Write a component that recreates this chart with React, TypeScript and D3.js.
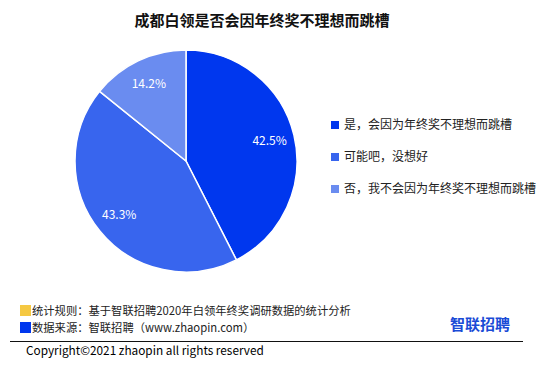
import React from "react";
import * as d3 from "d3";

const categories = ["是，会因为年终奖不理想而跳槽", "可能吧，没想好", "否，我不会因为年终奖不理想而跳槽"];
const values = [42.5, 43.3, 14.2];
const colors = ["#0037ee", "#3865ee", "#6a8cf0"];
const title = "成都白领是否会因年终奖不理想而跳槽";
const notes = ["统计规则：基于智联招聘2020年白领年终奖调研数据的统计分析", "数据来源：智联招聘（www.zhaopin.com）"];
const copyright = "Copyright©2021 zhaopin all rights reserved";

const FONT = "'Microsoft YaHei', 'Noto Sans CJK SC', sans-serif";

export default function App() {
  const W = 554, H = 367;
  const cx = 186, cy = 161, R = 111;
  const pie = d3.pie<number>().sort(null).value((d) => d);
  const arcs = pie(values);
  const arc = d3.arc<d3.PieArcDatum<number>>().innerRadius(0).outerRadius(R);
  const labelArc = d3.arc<d3.PieArcDatum<number>>().innerRadius(86).outerRadius(86);
  return (
    <svg width={W} height={H} style={{ position: "absolute", left: 0, top: 0, background: "#fff" }} fontFamily={FONT}>
      <rect width={W} height={H} fill="#fff" />
      <text x={262} y={26} textAnchor="middle" fontSize={15} fontWeight="bold" fill="#111">{title}</text>
      <g transform={`translate(${cx},${cy})`}>
        {arcs.map((a, i) => (
          <path key={i} d={arc(a) || ""} fill={colors[i]} stroke="#fff" strokeWidth={1.5} />
        ))}
        {arcs.map((a, i) => {
          const [x, y] = labelArc.centroid(a);
          return (
            <text key={i} x={x} y={y} dy="0.35em" textAnchor="middle" fontSize={12} fill="#fff">
              {values[i].toFixed(1)}%
            </text>
          );
        })}
      </g>
      {categories.map((c, i) => (
        <g key={i} transform={`translate(331,${121 + i * 32})`}>
          <rect x={0} y={0} width={8} height={8} fill={colors[i]} />
          <text x={13} y={4} dy="0.35em" fontSize={12} fill="#222">{c}</text>
        </g>
      ))}
      <rect x={20} y={305} width={11} height={11} fill="#f5c842" />
      <rect x={20} y={322} width={11} height={11} fill="#0037ee" />
      <text x={32} y={311} dy="0.35em" fontSize={11.3} fill="#222">{notes[0]}</text>
      <text x={32} y={328} dy="0.35em" fontSize={11.3} fill="#222">{notes[1]}</text>
      <text x={510} y={325} dy="0.35em" textAnchor="end" fontSize={15} fontWeight="bold" fill="#1a4bd6">智联招聘</text>
      <line x1={10} x2={523} y1={341.5} y2={341.5} stroke="#111" strokeWidth={1} />
      <text x={26} y={351} dy="0.35em" fontSize={11.8} fill="#000">{copyright}</text>
    </svg>
  );
}
